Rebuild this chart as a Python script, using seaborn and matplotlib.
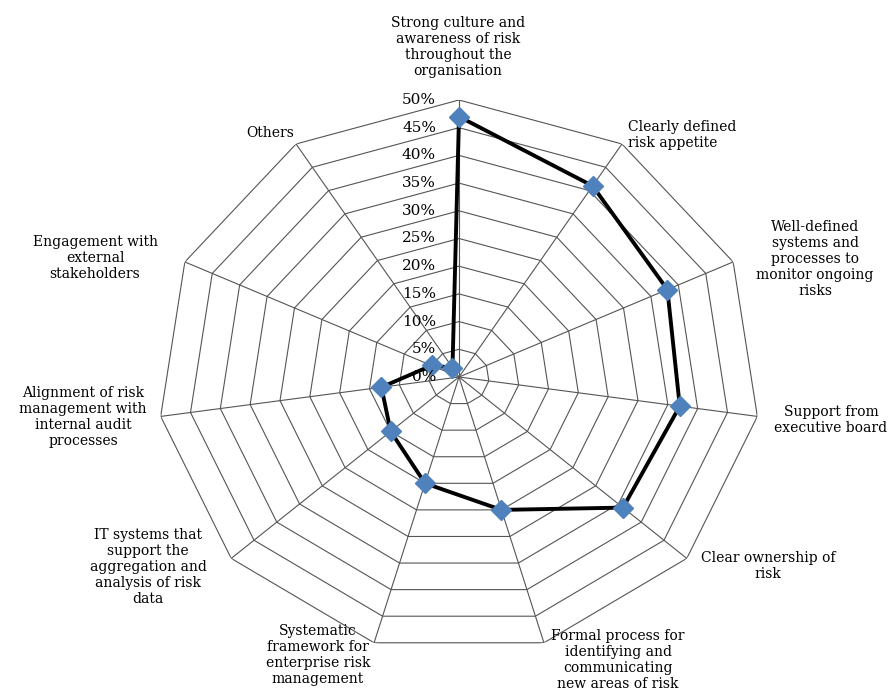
import numpy as np
import pandas as pd
import matplotlib
matplotlib.use("Agg")
import matplotlib.pyplot as plt
import matplotlib.transforms as mtransforms
import seaborn as sns

categories = [
    "Strong culture and\nawareness of risk\nthroughout the\norganisation",
    "Clearly defined\nrisk appetite",
    "Well-defined\nsystems and\nprocesses to\nmonitor ongoing\nrisks",
    "Support from\nexecutive board",
    "Clear ownership of\nrisk",
    "Formal process for\nidentifying and\ncommunicating\nnew areas of risk",
    "Systematic\nframework for\nenterprise risk\nmanagement",
    "IT systems that\nsupport the\naggregation and\nanalysis of risk\ndata",
    "Alignment of risk\nmanagement with\ninternal audit\nprocesses",
    "Engagement with\nexternal\nstakeholders",
    "Others",
]
values = [47, 41, 38, 37, 36, 25, 20, 15, 13, 5, 2]
ring_values = [0, 5, 10, 15, 20, 25, 30, 35, 40, 45, 50]
ring_labels = ["0%", "5%", "10%", "15%", "20%", "25%", "30%", "35%", "40%", "45%", "50%"]

# label centres in pixels (x, y from top)
label_pos = [(458, 47), (628, 135), (815, 259), (831, 420), (768, 566),
             (618, 660), (318, 655), (148, 567), (83, 417), (95, 258), (270, 133)]
label_ha = ["center", "left", "center", "center", "center",
            "center", "center", "center", "center", "center", "center"]

sns.set_style("white")
plt.rcParams["font.family"] = ["DejaVu Serif"]
plt.rcParams["text.color"] = "black"

W, H = 896, 697
fig = plt.figure(figsize=(W / 100, H / 100), dpi=100)
# the original chart is stretched horizontally
cx, cy, Rx, Ry = 459, 377, 301.4, 277
ax = fig.add_axes([(cx - Rx) / W, (H - cy - Ry) / H, 2 * Rx / W, 2 * Ry / H], projection="polar")
ax.set_aspect("auto")
ax.set_theta_offset(np.pi / 2)
ax.set_theta_direction(-1)
ax.set_ylim(0, 50)
ax.grid(False)
ax.spines["polar"].set_visible(False)
ax.set_xticks([])
ax.set_yticks([])
ax.patch.set_alpha(0)

n = len(categories)
theta = np.arange(n) * 2 * np.pi / n
theta_closed = np.append(theta, theta[0])

grid_col = "#555555"
for r in ring_values[1:]:
    ax.plot(theta_closed, [r] * (n + 1), color=grid_col, lw=0.8, zorder=1)
for t in theta:
    ax.plot([t, t], [0, 50], color=grid_col, lw=0.8, zorder=1)

df = pd.DataFrame({"theta": theta_closed, "value": values + [values[0]]})
sns.lineplot(data=df, x="theta", y="value", sort=False, ax=ax, color="black",
             lw=2.8, zorder=3, estimator=None)
ax.plot(theta, values, linestyle="none", marker="D", markersize=10.5,
        color="#4F81BD", markeredgecolor="#4F81BD", zorder=4, clip_on=False)
ax.set_xlabel("")
ax.set_ylabel("")
ax.set_ylim(0, 50)

off = mtransforms.offset_copy(ax.transData, fig=fig, x=-23, y=0, units="dots")
for r, lab in zip(ring_values, ring_labels):
    ax.text(0, r, lab, transform=off, ha="right", va="center", fontsize=11,
            color="black", zorder=5)

for lab, (x, y), ha in zip(categories, label_pos, label_ha):
    fig.text(x / W, 1 - y / H, lab, ha=ha, va="center", fontsize=10, color="black",
             multialignment="left" if ha == "left" else "center", linespacing=1.2)

fig.savefig("out.png", dpi=100)
